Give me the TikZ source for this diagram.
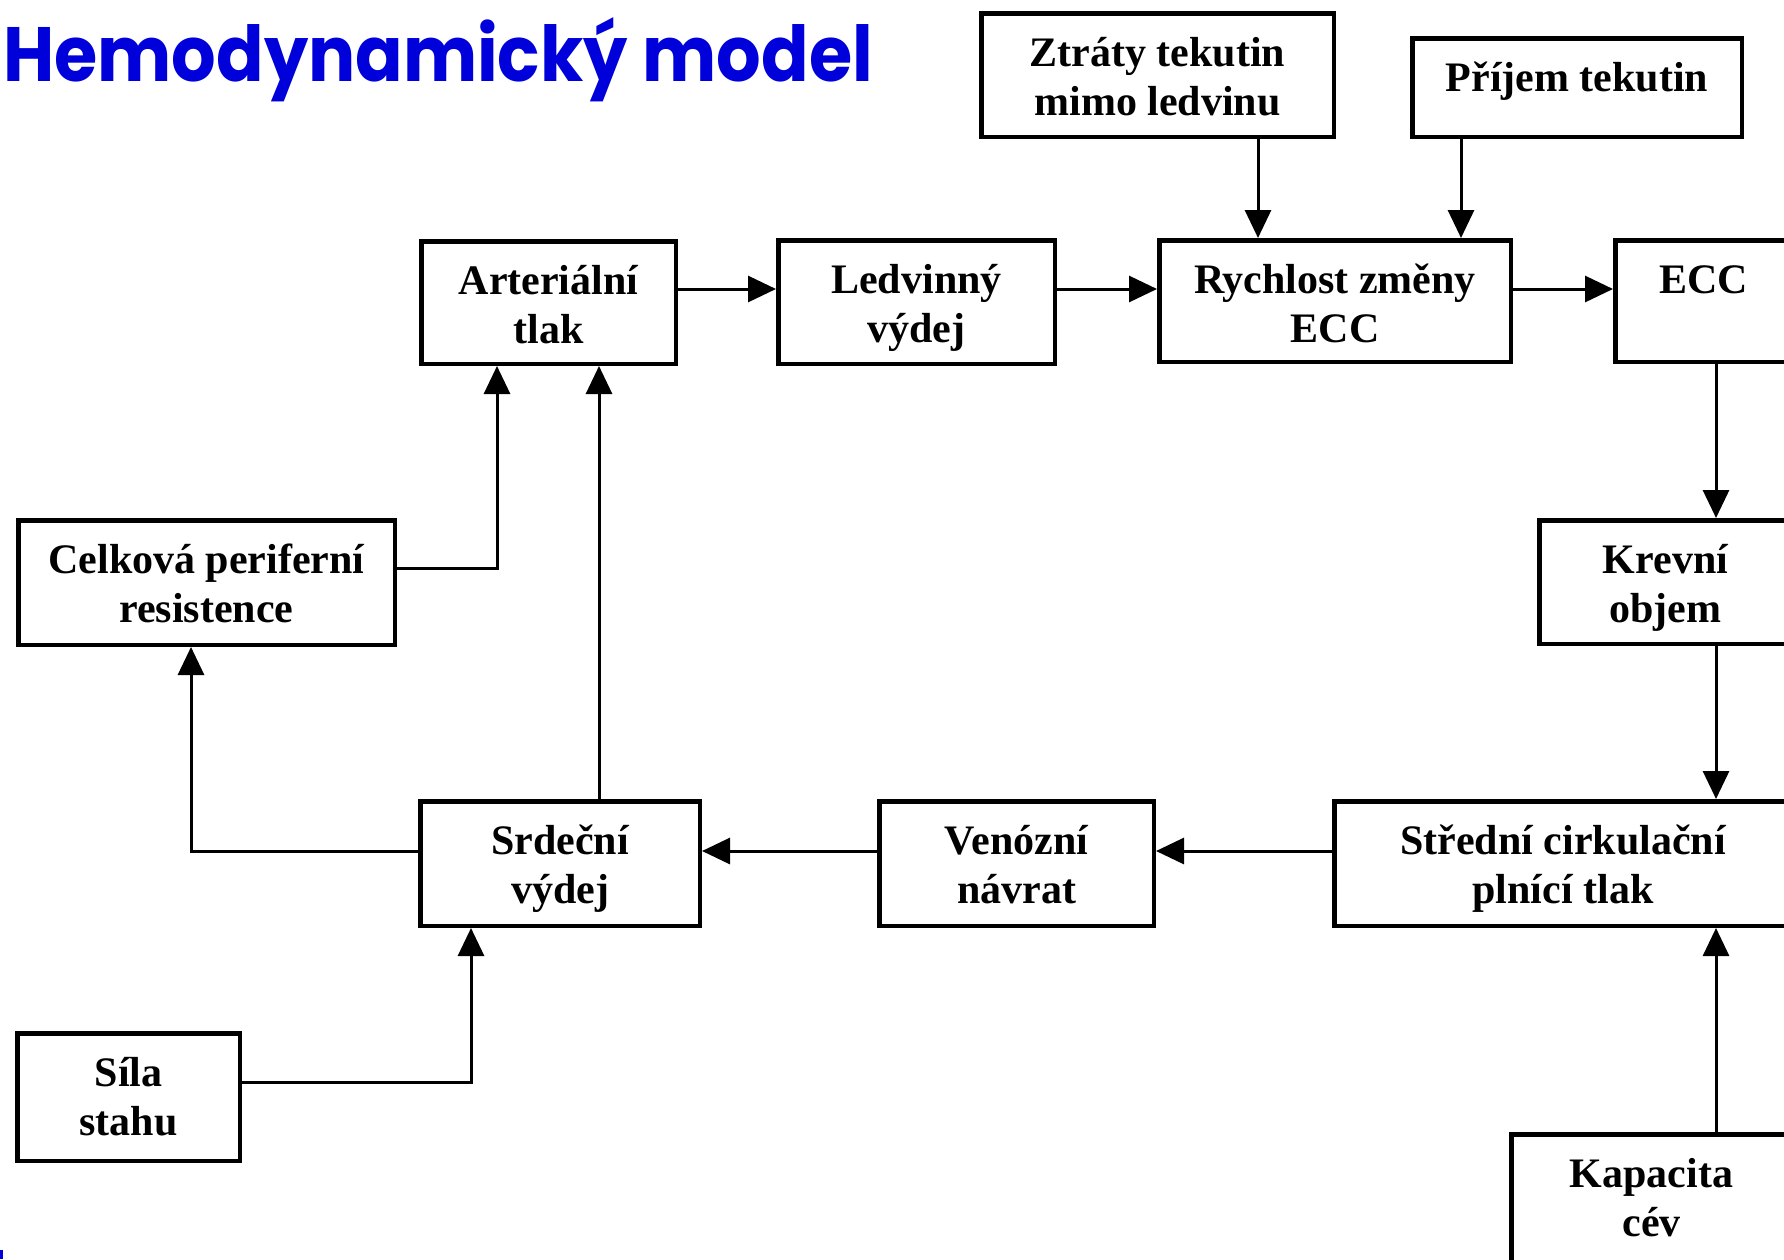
\documentclass[tikz,border=0pt]{standalone}
\usepackage{fontspec}
\setmainfont{Liberation Serif}
\newfontfamily\titlefont{Poppins}[FakeStretch=0.91]
\usetikzlibrary{arrows.meta}
\definecolor{ttl}{RGB}{0,0,218}
\tikzset{
  box/.style={draw, line width=4.5pt, inner sep=0pt},
  boxtext/.style={anchor=base, inner sep=0pt,
    font=\bfseries\fontsize{42}{49}\selectfont},
  conn/.style={line width=3pt, -{Triangle[length=28pt,width=26pt]}}
}
\newcommand\mkbox[6]{%
  \node[box, minimum width={#4-#2-4.5}, minimum height={#5-#3-4.5}]
    (#1) at ({(#2+#4)/2},{(#3+#5)/2}) {};
  \node[boxtext] (#1t) at ({(#2+#4)/2},{#3+55.5})
    {\begin{tabular}[t]{@{}c@{}}#6\end{tabular}};}
\begin{document}
\begin{tikzpicture}[x=1pt,y=-1pt]
\useasboundingbox (0,0) rectangle (1784,1259);
\clip (0,0) rectangle (1784,1259);
\node[anchor=base west, inner sep=0pt, text=ttl,
  font=\titlefont\bfseries\fontsize{77}{80}\selectfont] (title) at (3,81) {Hemodynamický model};
\fill[ttl] (0,1250) rectangle (3,1259);
\mkbox{zt}{979}{11}{1336}{139}{Ztráty tekutin\\mimo ledvinu}
\mkbox{pr}{1410}{36}{1744}{139}{Příjem tekutin}
\mkbox{ar}{419}{239}{678}{366}{Arteriální\\tlak}
\mkbox{lv}{776}{238}{1057}{366}{Ledvinný\\výdej}
\mkbox{rc}{1157}{238}{1513}{364}{Rychlost změny\\ECC}
\mkbox{ecc}{1613}{238}{1794}{364}{ECC}
\mkbox{kr}{1537}{518}{1794}{646}{Krevní\\objem}
\mkbox{ce}{16}{518}{397}{647}{Celková periferní\\resistence}
\mkbox{sr}{418}{799}{702}{928}{Srdeční\\výdej}
\mkbox{vn}{877}{799}{1156}{928}{Venózní\\návrat}
\mkbox{st}{1332}{799}{1794}{928}{Střední cirkulační\\plnící tlak}
\mkbox{si}{15}{1031}{242}{1163}{Síla\\stahu}
\mkbox{ka}{1509}{1132}{1794}{1270}{Kapacita\\cév}
\draw[conn] (1258,0 |- zt.south) -- (1258,0 |- rc.north);
\draw[conn] (1461,0 |- pr.south) -- (1461,0 |- rc.north);
\draw[conn] (ar.east |- 0,289) -- (lv.west |- 0,289);
\draw[conn] (lv.east |- 0,289) -- (rc.west |- 0,289);
\draw[conn] (rc.east |- 0,289) -- (ecc.west |- 0,289);
\draw[conn] (1716,0 |- ecc.south) -- (1716,0 |- kr.north);
\draw[conn] (1716,0 |- kr.south) -- (1716,0 |- st.north);
\draw[conn] (1716,0 |- ka.north) -- (1716,0 |- st.south);
\draw[conn] (st.west |- 0,851) -- (vn.east |- 0,851);
\draw[conn] (vn.west |- 0,851) -- (sr.east |- 0,851);
\draw[conn] (599,0 |- sr.north) -- (599,0 |- ar.south);
\draw[conn] (sr.west |- 0,851) -| (ce.south -| 191,0);
\draw[conn] (ce.east |- 0,568) -| (ar.south -| 497,0);
\draw[conn] (si.east |- 0,1082) -| (sr.south -| 471,0);
\end{tikzpicture}
\end{document}
